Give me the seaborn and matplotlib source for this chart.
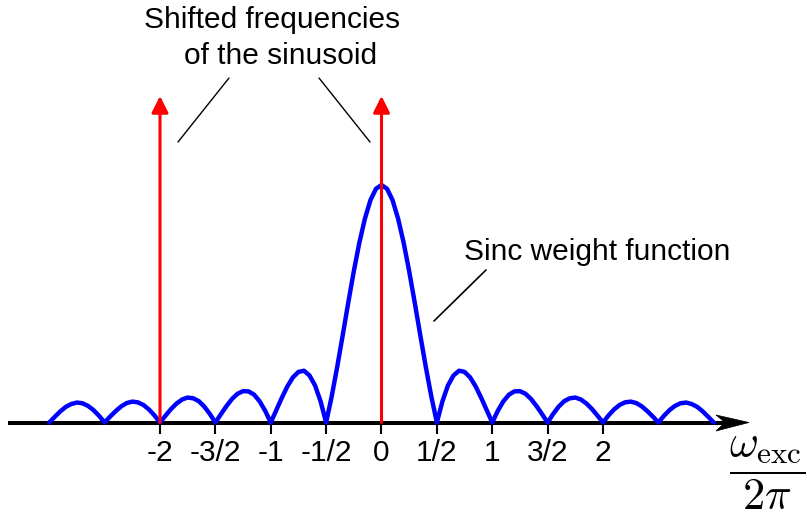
import matplotlib
matplotlib.use("Agg")
import matplotlib.pyplot as plt
import seaborn as sns
from matplotlib.patches import Polygon

# ---- data ----
freq = [-3.00, -2.95, -2.90, -2.85, -2.80, -2.75, -2.70, -2.65, -2.60, -2.55,
        -2.50, -2.45, -2.40, -2.35, -2.30, -2.25, -2.20, -2.15, -2.10, -2.05,
        -2.00, -1.95, -1.90, -1.85, -1.80, -1.75, -1.70, -1.65, -1.60, -1.55,
        -1.50, -1.45, -1.40, -1.35, -1.30, -1.25, -1.20, -1.15, -1.10, -1.05,
        -1.00, -0.95, -0.90, -0.85, -0.80, -0.75, -0.70, -0.65, -0.60, -0.55,
        -0.50, -0.45, -0.40, -0.35, -0.30, -0.25, -0.20, -0.15, -0.10, -0.05,
        0.00,
        0.05, 0.10, 0.15, 0.20, 0.25, 0.30, 0.35, 0.40, 0.45, 0.50,
        0.55, 0.60, 0.65, 0.70, 0.75, 0.80, 0.85, 0.90, 0.95, 1.00,
        1.05, 1.10, 1.15, 1.20, 1.25, 1.30, 1.35, 1.40, 1.45, 1.50,
        1.55, 1.60, 1.65, 1.70, 1.75, 1.80, 1.85, 1.90, 1.95, 2.00,
        2.05, 2.10, 2.15, 2.20, 2.25, 2.30, 2.35, 2.40, 2.45, 2.50,
        2.55, 2.60, 2.65, 2.70, 2.75, 2.80, 2.85, 2.90, 2.95, 3.00]

weight = [0.000, 0.024, 0.047, 0.066, 0.078, 0.084, 0.081, 0.070, 0.052, 0.028,
          0.000, 0.025, 0.048, 0.068, 0.082, 0.088, 0.085, 0.074, 0.055, 0.030,
          0.000, 0.029, 0.057, 0.080, 0.097, 0.105, 0.102, 0.090, 0.067, 0.036,
          0.000, 0.035, 0.069, 0.099, 0.121, 0.132, 0.131, 0.117, 0.089, 0.049,
          0.000, 0.052, 0.104, 0.152, 0.190, 0.213, 0.218, 0.198, 0.156, 0.089,
          0.000, 0.109, 0.234, 0.368, 0.505, 0.637, 0.757, 0.858, 0.936, 0.984,
          1.000,
          0.984, 0.936, 0.858, 0.757, 0.637, 0.505, 0.368, 0.234, 0.109, 0.000,
          0.089, 0.156, 0.198, 0.218, 0.213, 0.190, 0.152, 0.104, 0.052, 0.000,
          0.049, 0.089, 0.117, 0.131, 0.132, 0.121, 0.099, 0.069, 0.035, 0.000,
          0.036, 0.067, 0.090, 0.102, 0.105, 0.097, 0.080, 0.057, 0.029, 0.000,
          0.030, 0.055, 0.074, 0.085, 0.088, 0.082, 0.068, 0.048, 0.025, 0.000,
          0.028, 0.052, 0.070, 0.081, 0.084, 0.078, 0.066, 0.047, 0.024, 0.000]

arrow_pos = [-2, 0]
arrow_height = 1.375
tick_pos = [-2, -1.5, -1, -0.5, 0, 0.5, 1, 1.5, 2]
tick_labels = ["-2", "-3/2", "-1", "-1/2", "0", "1/2", "1", "3/2", "2"]

# ---- style ----
sns.set_style("white")
plt.rcParams["font.family"] = ["Liberation Sans", "DejaVu Sans"]
plt.rcParams["mathtext.fontset"] = "cm"

W, H = 807, 513
fig = plt.figure(figsize=(W / 100, H / 100), dpi=100)
ax = fig.add_axes([0, 0, 1, 1])

X0, SX = 381.5, 110.75
Y0, SY = 422.5, 237.5


def px(x):
    return (x - X0) / SX


def py(y):
    return (Y0 - y) / SY


ax.set_xlim(px(0), px(W))
ax.set_ylim(py(H), py(0))

# axis line as spine
for s in ["top", "left", "right"]:
    ax.spines[s].set_visible(False)
ax.spines["bottom"].set_position(("data", 0))
ax.spines["bottom"].set_bounds(px(10), px(726))
ax.spines["bottom"].set_linewidth(2.9)
ax.spines["bottom"].set_color("black")
ax.spines["bottom"].set_zorder(2.5)

ax.set_xticks(tick_pos, tick_labels)
ax.set_yticks([])
ax.tick_params(axis="x", direction="out", length=8, width=1.5, pad=4,
               labelsize=21.5, colors="black", bottom=True)

# axis arrow head
head = Polygon([[px(749), 0], [px(716), py(415.0)], [px(725), 0],
                [px(716), py(431.0)]], closed=True, facecolor="black",
               edgecolor="black", lw=0.5, zorder=2.6)
ax.add_patch(head)

# sinc curve
sns.lineplot(x=freq, y=weight, color="#0000ff", lw=3.2, ax=ax, zorder=3)

# red arrows
for xa in arrow_pos:
    ax.annotate("", xy=(xa, arrow_height), xytext=(xa, 0),
                arrowprops=dict(arrowstyle="-|>,head_length=0.4,head_width=0.2",
                                mutation_scale=25, color="#ff0000", lw=2.2,
                                shrinkA=0, shrinkB=0),
                zorder=4)

# leader lines
ax.plot([px(178), px(229)], [py(142), py(78)], color="black", lw=1.0)
ax.plot([px(319), px(370)], [py(78), py(142)], color="black", lw=1.0)
ax.plot([px(434), px(486)], [py(321), py(270)], color="black", lw=1.2)

# texts
ax.text(px(272), py(28), "Shifted frequencies", ha="center", va="baseline",
        fontsize=21.5, color="black")
ax.text(px(281), py(64), "of the sinusoid", ha="center", va="baseline",
        fontsize=21.5, color="black")
ax.text(px(597), py(260), "Sinc weight function", ha="center", va="baseline",
        fontsize=21.5, color="black")
ax.text(px(767), py(473), r"$\dfrac{\omega_{\mathrm{exc}}}{2\pi}$",
        ha="center", va="center", fontsize=32, color="black")

fig.savefig("out.png", dpi=100)
